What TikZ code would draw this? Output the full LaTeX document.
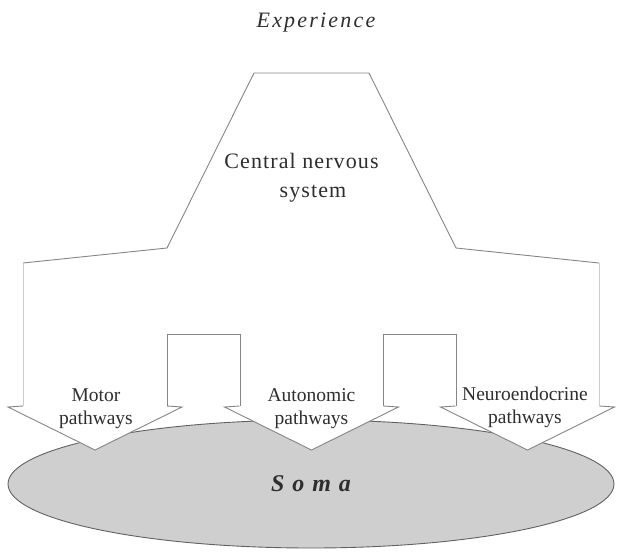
\documentclass[tikz,border=0pt]{standalone}
\usepackage{fontspec}
\setmainfont{Liberation Serif}
\usetikzlibrary{shapes.geometric}
\definecolor{edgegray}{gray}{0.52}
\definecolor{paleedge}{gray}{0.80}
\definecolor{somagray}{gray}{0.81}
\definecolor{inkgray}{gray}{0.18}
\begin{document}
\begin{tikzpicture}[x=1pt, y=-1pt, line width=0.9pt, text=inkgray,
  path label/.style={font=\fontsize{19.5}{23}\selectfont, align=center}]
\useasboundingbox (0,0) rectangle (621,552);
% the body, drawn first so the arrow heads sit on it
\node[draw=black!62, fill=somagray, ellipse, inner sep=0pt, minimum width=606, minimum height=128,
  font=\fontsize{24}{26}\selectfont\bfseries\itshape] (soma) at (311,484) {\spaceskip=0.33em\relax S o m a};
% white outline: brain on top, three pathways down
\fill[white] (254,73) -- (369,73) -- (456,248) -- (599,263) -- (599.5,406) -- (614.5,407) -- (527.5,450)
  -- (440.5,407) -- (455.5,406) -- (456,334) -- (383,334) -- (383.5,406) -- (398.5,407) -- (311.5,450)
  -- (224.5,407) -- (239.5,406) -- (240,334) -- (167,334) -- (167,406) -- (182,407) -- (95,450)
  -- (8,407) -- (23,406) -- (23,263) -- (167,248) -- cycle;
\draw[edgegray] (23,263) -- (167,248) -- (254,73) -- (369,73) -- (456,248) -- (599,263);
\draw[paleedge] (23,263) -- (23,406) (599,263) -- (599,406);
\draw[edgegray] (167,406) -- (167,334) -- (240,334) -- (240,406);
\draw[edgegray] (383,406) -- (383,334) -- (456,334) -- (456,406);
\foreach \c in {95,311.5,527.5}
  \draw[edgegray] (\c-72,406) -- (\c-87,407) -- (\c,450) -- (\c+87,407) -- (\c+72,406);
% labels
\node[font=\fontsize{22}{24}\selectfont\itshape\addfontfeature{LetterSpace=10}, anchor=base] (exp) at (316,27) {Experience};
\node[font=\fontsize{22}{24}\selectfont\addfontfeature{LetterSpace=5}, anchor=base] (cns) at (301.5,168) {Central nervous};
\node[font=\fontsize{22}{24}\selectfont\addfontfeature{LetterSpace=5}, anchor=base] (sys) at (313,197) {system};
\node[path label] (motor) at (96,408.5) {Motor\\pathways};
\node[path label] (auto) at (311.5,408.5) {Autonomic\\pathways};
\node[path label] (neuro) at (525,407) {Neuroendocrine\\pathways};
\end{tikzpicture}
\end{document}
